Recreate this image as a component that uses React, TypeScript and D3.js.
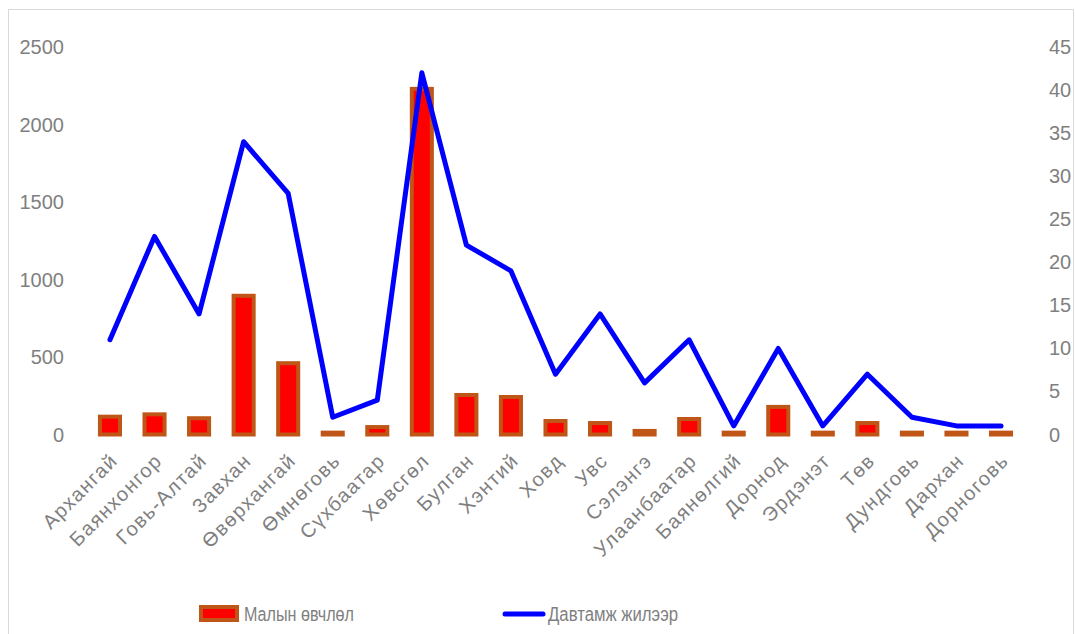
import React from "react";
import * as d3 from "d3";

const categories = [
  "Архангай", "Баянхонгор", "Говь-Алтай", "Завхан", "Өвөрхангай", "Өмнөговь",
  "Сүхбаатар", "Хөвсгөл", "Булган", "Хэнтий", "Ховд", "Увс", "Сэлэнгэ",
  "Улаанбаатар", "Баянөлгий", "Дорнод", "Эрдэнэт", "Төв", "Дундговь", "Дархан", "Дорноговь",
];
const malynOvchlol = [115, 130, 105, 895, 460, 12, 48, 2230, 255, 242, 87, 74, 23, 100, 12, 178, 12, 74, 12, 12, 12];
const davtamzh = [11, 23, 14, 34, 28, 2, 4, 42, 22, 19, 7, 14, 6, 11, 1, 10, 1, 7, 2, 1, 1];
const leftTicks = [0, 500, 1000, 1500, 2000, 2500];
const rightTicks = [0, 5, 10, 15, 20, 25, 30, 35, 40, 45];
const seriesNames = ["Малын өвчлөл", "Давтамж жилээр"];

const W = 1075, H = 634;
const FONT = "'Liberation Sans', Arial, sans-serif";
const GRAY = "#7f7f7f";
const BAR_FILL = "#ff0000";
const BAR_STROKE = "#bf5516";
const LINE = "#0000ff";

export default function App() {
  const x = d3.scaleBand<string>().domain(categories).range([87.7, 1023.3]).paddingInner(0.55).paddingOuter(0.275);
  const yL = d3.scaleLinear().domain([0, 2500]).range([434.5, 47]);
  const yR = d3.scaleLinear().domain([0, 45]).range([434.5, 47]);
  const cx = (c: string) => (x(c) as number) + x.bandwidth() / 2;
  const line = d3.line<number>().x((_, i) => cx(categories[i])).y((d) => yR(d));

  return (
    <svg width={W} height={H} style={{ position: "absolute", left: 0, top: 0, background: "#fff" }} fontFamily={FONT}>
      <rect x={8.5} y={9.5} width={1065} height={640} fill="#fff" stroke="#d9d9d9" strokeWidth={1} />
      {leftTicks.map((t) => (
        <text key={"l" + t} x={64} y={yL(t)} dy="0.35em" textAnchor="end" fontSize={20} fill={GRAY}>{t}</text>
      ))}
      {rightTicks.map((t) => (
        <text key={"r" + t} x={1049} y={yR(t)} dy="0.35em" textAnchor="start" fontSize={20} fill={GRAY}>{t}</text>
      ))}
      {categories.map((c, i) => (
        <rect key={"b" + c} x={x(c)} y={yL(malynOvchlol[i])} width={x.bandwidth()}
          height={yL(0) - yL(malynOvchlol[i])} fill={BAR_FILL} stroke={BAR_STROKE} strokeWidth={4} />
      ))}
      <path d={line(davtamzh) || ""} fill="none" stroke={LINE} strokeWidth={5} strokeLinejoin="round" strokeLinecap="round" />
      {categories.map((c) => (
        <text key={"t" + c} transform={`translate(${cx(c) + 4},${457}) rotate(-45)`} textAnchor="end" dy="0.35em"
          fontSize={20} letterSpacing={1.4} fill={GRAY}>{c}</text>
      ))}
      <g>
        <rect x={201} y={607} width={36} height={13} fill={BAR_FILL} stroke={BAR_STROKE} strokeWidth={4} />
        <text x={244} y={621} fontSize={20} textLength={110} lengthAdjust="spacingAndGlyphs" fill={GRAY}>{seriesNames[0]}</text>
        <line x1={505} x2={543} y1={614} y2={614} stroke={LINE} strokeWidth={5} strokeLinecap="round" />
        <text x={548} y={621} fontSize={20} textLength={130} lengthAdjust="spacingAndGlyphs" fill={GRAY}>{seriesNames[1]}</text>
      </g>
    </svg>
  );
}
